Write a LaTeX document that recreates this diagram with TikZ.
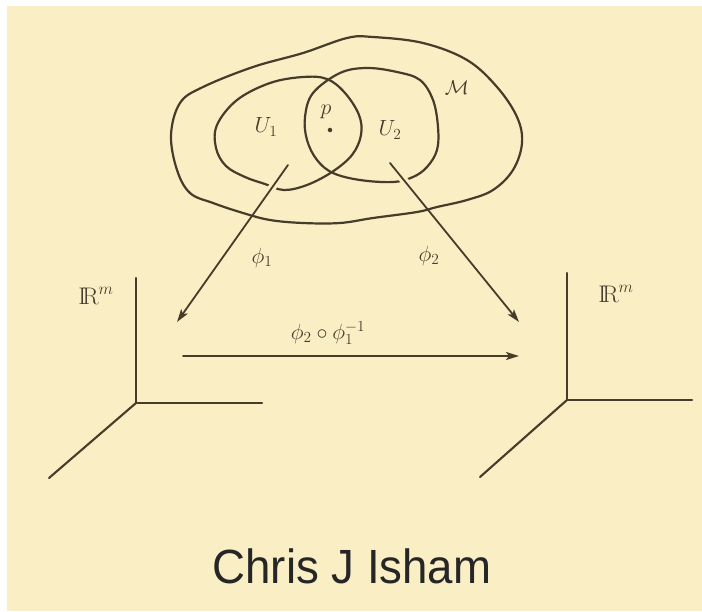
\documentclass[tikz,border=0pt]{standalone}
\usepackage{fix-cm}
\usepackage{fontspec}
\newfontfamily\capfont{Liberation Sans}
\usetikzlibrary{arrows.meta,calc}
\definecolor{bg}{RGB}{250,238,197}
\definecolor{ink}{RGB}{70,60,42}
\definecolor{capink}{RGB}{38,38,38}
\begin{document}
\begin{tikzpicture}[x=1pt,y=-1pt, line join=round, line cap=round,
  curve/.style={draw=ink, line width=2.2pt},
  axisline/.style={draw=ink, line width=2.1pt},
  mapping/.style={draw=ink, line width=1.8pt, -{Stealth[length=13pt,width=8pt,inset=3pt]}},
  halo/.style={draw=bg, line width=8pt},
  lab/.style={text=ink, inner sep=0pt, font=\fontsize{22}{24}\selectfont}]
\fill[white] (0,0) rectangle (702,611);
\useasboundingbox (0,0) rectangle (702,611);
\fill[bg] (7,6) rectangle (702,611);

% open set U1
\draw[curve] plot[smooth cycle, tension=0.6] coordinates {
  (237,100) (270,83) (303,77) (327,79) (345,93) (359,115) (361,135)
  (352,155) (332,172) (307,185) (284,190) (265,184) (245,177) (226,166)
  (216,148) (217,125)};
% open set U2
\draw[curve] plot[smooth cycle, tension=0.6] coordinates {
  (340,73) (367,68) (397,72) (420,80) (433,100) (438,127) (437,150)
  (427,167) (413,177) (393,182) (360,180) (333,173) (317,160) (307,140)
  (305,117) (313,93)};

% arrow end points
\coordinate (a1s) at (288,165);
\coordinate (a1e) at (177,322);
\coordinate (a2s) at (390,163);
\coordinate (a2e) at (519,322);
\coordinate (a3s) at (183,356);
\coordinate (a3e) at (519,356);

% gaps where the maps leave the open sets
\draw[halo] (a1s) -- ($(a1s)!0.18!(a1e)$);
\draw[halo] (a2s) -- ($(a2s)!0.16!(a2e)$);

% manifold M
\draw[curve] plot[smooth cycle, tension=0.6] coordinates {
  (347,38) (373,37) (423,43) (467,60) (497,87) (517,117) (522,143)
  (513,170) (493,190) (467,200) (437,207) (417,212) (373,218) (340,223)
  (303,223) (270,220) (243,213) (213,203) (190,193) (177,170) (171,135)
  (180,103) (203,87) (253,67) (303,53)};

% labels in M
\node[lab] (u1) at (266,127) {$U_1$};
\node[lab] (u2) at (390,130) {$U_2$};
\node[lab] (p) at (326,112) {$p$};
\node[circle, fill=ink, inner sep=1.6pt] (pt) at (330,130) {};
\node[lab, font=\fontsize{20}{22}\selectfont] (M) at (457,88) {$\mathcal{M}$};

% left axes
\coordinate (o1) at (136,403);
\coordinate (o1y) at (136,278);
\coordinate (o1x) at (262,403);
\coordinate (o1z) at (49,478);
\draw[axisline] (o1y) -- (o1) -- (o1x);
\draw[axisline] (o1) -- (o1z);
\node[lab, font=\fontsize{24}{26}\selectfont] (r1) at (96,296) {$\mathrm{I\!R}^m$};

% right axes
\coordinate (o2) at (567,400);
\coordinate (o2y) at (567,273);
\coordinate (o2x) at (692,400);
\coordinate (o2z) at (480,477);
\draw[axisline] (o2y) -- (o2) -- (o2x);
\draw[axisline] (o2) -- (o2z);
\node[lab, font=\fontsize{24}{26}\selectfont] (r2) at (616,294) {$\mathrm{I\!R}^m$};

% maps
\draw[mapping] (a1s) -- (a1e);
\draw[mapping] (a2s) -- (a2e);
\draw[mapping] (a3s) -- (a3e);
\node[lab] (phi1) at (262,258) {$\phi_1$};
\node[lab] (phi2) at (429,256) {$\phi_2$};
\node[lab] (comp) at (328,333) {$\phi_2\circ\phi_1^{-1}$};

% caption
\node[text=capink, inner sep=0pt, font=\capfont\fontsize{48}{50}\selectfont] (name) at (352,566) {\scalebox{0.95}[1]{Chris J Isham}};
\end{tikzpicture}
\end{document}
